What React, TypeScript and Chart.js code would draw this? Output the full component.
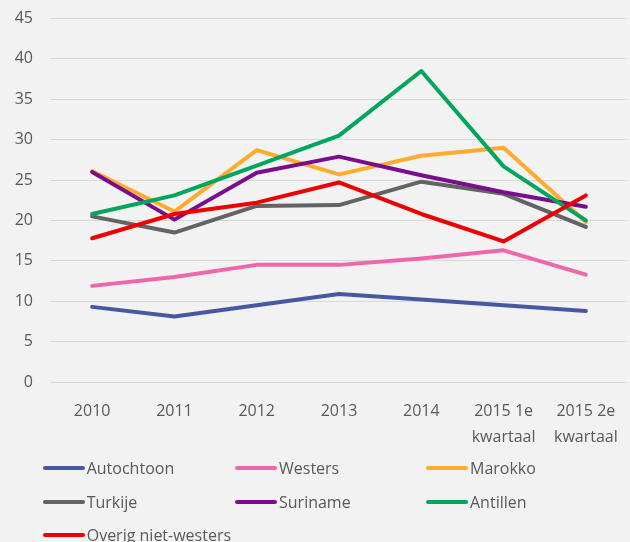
import React, { useEffect, useRef } from "react";
import { Chart, registerables } from "chart.js";

Chart.register(...registerables);

const categories: (string | string[])[] = [
  "2010",
  "2011",
  "2012",
  "2013",
  "2014",
  ["2015 1e", "kwartaal"],
  ["2015 2e", "kwartaal"],
];

const seriesNames = [
  "Autochtoon",
  "Westers",
  "Marokko",
  "Turkije",
  "Suriname",
  "Antillen",
  "Overig niet-westers",
];

const autochtoon = [9.3, 8.1, 9.5, 10.9, 10.2, 9.5, 8.8];
const westers = [11.9, 13.0, 14.5, 14.5, 15.3, 16.3, 13.3];
const marokko = [26.1, 21.1, 28.7, 25.7, 28.0, 29.0, 19.8];
const turkije = [20.5, 18.5, 21.8, 21.9, 24.8, 23.3, 19.2];
const suriname = [26.0, 20.1, 25.9, 27.9, 25.6, 23.5, 21.7];
const antillen = [20.8, 23.1, 26.8, 30.5, 38.5, 26.7, 20.0];
const overig = [17.8, 20.8, 22.2, 24.7, 20.8, 17.4, 23.1];

const seriesValues = [autochtoon, westers, marokko, turkije, suriname, antillen, overig];

const seriesColors = [
  "#4658a2",
  "#f066aa",
  "#ffab2e",
  "#636363",
  "#7a0c8e",
  "#00a65d",
  "#ee0000",
];

const yMin = 0;
const yMax = 45;
const yStep = 5;

const FONT = "'Open Sans', 'DejaVu Sans', sans-serif";
const TEXT = "#595959";

export default function App() {
  const ref = useRef<HTMLCanvasElement | null>(null);

  useEffect(() => {
    if (!ref.current) return;
    const n = seriesNames.length;
    const chart = new Chart(ref.current, {
      type: "line",
      data: {
        labels: categories,
        datasets: seriesNames.map((name, i) => ({
          label: name,
          data: seriesValues[i],
          borderColor: seriesColors[i],
          backgroundColor: seriesColors[i],
          borderWidth: 4,
          pointRadius: 0,
          pointHoverRadius: 0,
          tension: 0,
          borderCapStyle: "round" as const,
          borderJoinStyle: "round" as const,
          fill: false,
          order: n - 1 - i,
        })),
      },
      options: {
        responsive: false,
        animation: false,
        devicePixelRatio: 1,
        layout: { padding: { top: 18.5, right: 3, bottom: 0, left: 0 } },
        plugins: {
          legend: { display: false },
          tooltip: { enabled: false },
          title: { display: false },
        },
        scales: {
          x: {
            type: "category",
            offset: true,
            grid: { display: false, drawTicks: false },
            border: { display: false },
            ticks: {
              color: TEXT,
              font: { family: FONT, size: 16, lineHeight: 1.625 },
              padding: 16,
              maxRotation: 0,
              autoSkip: false,
            },
            afterFit: (scale: any) => {
              scale.height = 160;
              scale.paddingLeft = 0;
              scale.paddingRight = 0;
            },
          },
          y: {
            min: yMin,
            max: yMax,
            grid: { color: "#d9d9d9", lineWidth: 1, drawTicks: false },
            border: { display: false },
            ticks: {
              stepSize: yStep,
              color: TEXT,
              font: { family: FONT, size: 16 },
              padding: 18,
            },
            afterFit: (scale: any) => {
              scale.width = 51;
              scale.paddingTop = 0;
              scale.paddingBottom = 0;
            },
          },
        },
      },
    });
    return () => chart.destroy();
  }, []);

  const colLeft = [42.7, 235, 426];
  const rowCenter = [468.3, 501.7, 535];

  return (
    <div
      style={{
        position: "fixed",
        left: 0,
        top: 0,
        width: 630,
        height: 542,
        background: "#f2f2f2",
        overflow: "hidden",
      }}
    >
      <canvas ref={ref} width={630} height={542} style={{ position: "absolute", left: 0, top: 0, width: 630, height: 542 }} />
      {seriesNames.map((name, i) => {
        const col = i % 3;
        const row = Math.floor(i / 3);
        return (
          <div
            key={name}
            style={{
              position: "absolute",
              left: colLeft[col],
              top: rowCenter[row] - 12,
              height: 24,
              display: "flex",
              alignItems: "center",
              whiteSpace: "nowrap",
              fontFamily: FONT,
              fontSize: 16,
              color: TEXT,
            }}
          >
            <span
              style={{
                display: "inline-block",
                width: 42,
                height: 4,
                borderRadius: 2,
                background: seriesColors[i],
                marginRight: 2,
              }}
            />
            <span>{name}</span>
          </div>
        );
      })}
    </div>
  );
}
